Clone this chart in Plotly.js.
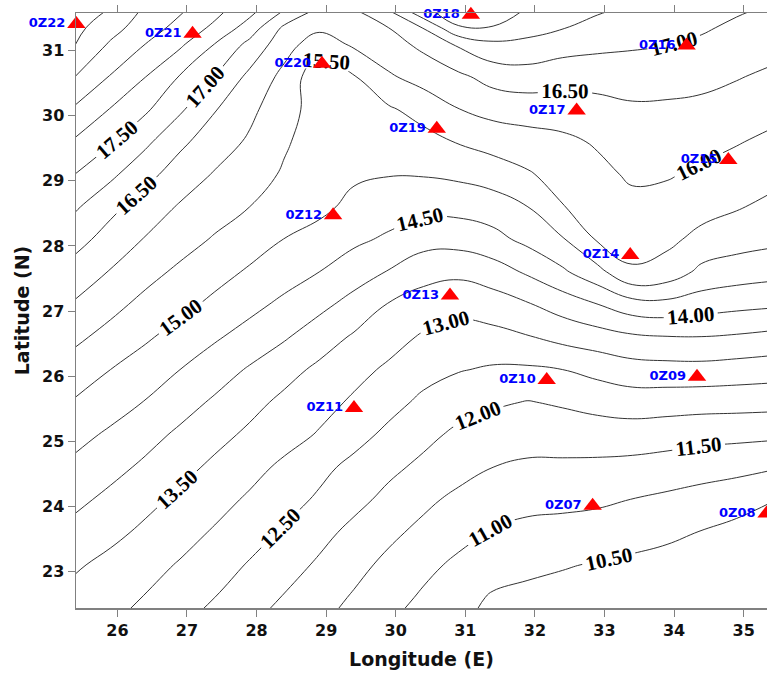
<!DOCTYPE html>
<html>
<head>
<meta charset="utf-8">
<script src="https://cdn.plot.ly/plotly-3.0.1.min.js"></script>
<style>
html,body{margin:0;padding:0;background:#fff;}
#chart{width:767px;height:674px;}
.contourlabels text{font-weight:700 !important;}
</style>
</head>
<body>
<div id="chart"></div>
<script>
// grid coordinates
const lon = [25.4, 25.9, 26.4, 26.9, 27.4, 27.9, 28.4, 28.9, 29.4, 29.9, 30.4, 30.9, 31.4, 31.9, 32.4, 32.9, 33.4, 33.9, 34.4, 34.9, 35.4];
const lat = [22.1, 22.6, 23.1, 23.6, 24.1, 24.6, 25.1, 25.6, 26.1, 26.6, 27.1, 27.6, 28.1, 28.6, 29.1, 29.6, 30.1, 30.6, 31.1, 31.35, 31.6];

// gridded values (one array per latitude row, west -> east)
const z_22_1  = [13.17, 12.99, 12.75, 12.50, 12.26, 12.00, 11.76, 11.52, 11.25, 10.98, 10.76, 10.53, 10.40, 10.35, 10.30, 10.25, 10.20, 10.15, 10.10, 10.07, 10.03];
const z_22_6  = [13.34, 13.16, 12.98, 12.74, 12.50, 12.23, 11.97, 11.71, 11.45, 11.19, 10.93, 10.67, 10.45, 10.40, 10.35, 10.30, 10.25, 10.20, 10.15, 10.10, 10.05];
const z_23_1  = [13.56, 13.36, 13.17, 12.96, 12.72, 12.46, 12.20, 11.93, 11.65, 11.38, 11.13, 10.90, 10.70, 10.59, 10.53, 10.47, 10.40, 10.33, 10.26, 10.20, 10.12];
const z_23_6  = [13.84, 13.63, 13.40, 13.18, 12.95, 12.70, 12.44, 12.15, 11.87, 11.61, 11.37, 11.16, 10.96, 10.87, 10.83, 10.78, 10.69, 10.60, 10.48, 10.35, 10.25];
const z_24_1  = [14.11, 13.88, 13.64, 13.40, 13.17, 12.93, 12.68, 12.43, 12.14, 11.87, 11.61, 11.38, 11.23, 11.14, 11.12, 11.08, 10.99, 10.90, 10.81, 10.70, 10.52];
const z_24_6  = [14.38, 14.15, 13.91, 13.65, 13.40, 13.16, 12.90, 12.63, 12.37, 12.11, 11.89, 11.69, 11.50, 11.42, 11.41, 11.39, 11.35, 11.29, 11.20, 11.14, 11.05];
const z_25_1  = [14.65, 14.42, 14.17, 13.91, 13.65, 13.41, 13.19, 12.96, 12.67, 12.39, 12.13, 11.90, 11.77, 11.70, 11.72, 11.75, 11.76, 11.71, 11.66, 11.63, 11.60];
const z_25_6  = [14.95, 14.72, 14.48, 14.20, 13.93, 13.65, 13.39, 13.17, 12.93, 12.66, 12.40, 12.20, 12.07, 11.98, 12.06, 12.17, 12.25, 12.23, 12.20, 12.19, 12.17];
const z_26_1  = [15.27, 15.00, 14.76, 14.50, 14.23, 13.95, 13.67, 13.40, 13.15, 12.92, 12.67, 12.53, 12.44, 12.43, 12.50, 12.65, 12.79, 12.82, 12.83, 12.78, 12.73];
const z_26_6  = [15.60, 15.33, 15.07, 14.81, 14.56, 14.31, 14.05, 13.74, 13.44, 13.19, 12.94, 12.82, 12.85, 12.97, 13.15, 13.28, 13.42, 13.48, 13.49, 13.44, 13.36];
const z_27_1  = [15.94, 15.65, 15.36, 15.13, 14.89, 14.64, 14.39, 14.13, 13.83, 13.47, 13.29, 13.15, 13.26, 13.46, 13.72, 13.99, 14.29, 14.35, 14.23, 14.14, 14.08];
const z_27_6  = [16.29, 15.97, 15.67, 15.40, 15.17, 14.94, 14.72, 14.50, 14.23, 13.97, 13.67, 13.61, 13.77, 14.07, 14.42, 14.84, 15.45, 15.30, 14.87, 14.75, 14.67];
const z_28_1  = [16.67, 16.30, 15.97, 15.71, 15.45, 15.22, 14.99, 14.80, 14.60, 14.42, 14.20, 14.19, 14.35, 14.63, 14.96, 15.55, 15.66, 15.61, 15.36, 15.21, 15.12];
const z_28_6  = [17.06, 16.63, 16.28, 15.95, 15.73, 15.50, 15.32, 15.13, 14.86, 14.74, 14.65, 14.66, 14.75, 15.00, 15.48, 15.71, 15.87, 15.83, 15.67, 15.54, 15.38];
const z_29_1  = [17.49, 17.11, 16.65, 16.28, 15.96, 15.69, 15.45, 15.28, 15.08, 15.02, 15.03, 15.10, 15.24, 15.45, 15.70, 15.88, 16.07, 16.04, 15.92, 15.80, 15.66];
const z_29_6  = [17.93, 17.55, 17.11, 16.60, 16.25, 15.93, 15.55, 15.30, 15.25, 15.25, 15.33, 15.53, 15.69, 15.80, 15.90, 16.05, 16.24, 16.23, 16.15, 16.03, 15.90];
const z_30_1  = [18.42, 17.98, 17.58, 17.08, 16.53, 16.12, 15.68, 15.30, 15.30, 15.44, 15.69, 15.99, 16.17, 16.23, 16.24, 16.33, 16.43, 16.42, 16.38, 16.29, 16.15];
const z_30_6  = [18.99, 18.47, 18.01, 17.47, 16.99, 16.38, 15.86, 15.15, 15.47, 15.94, 16.19, 16.40, 16.68, 16.77, 16.69, 16.69, 16.71, 16.69, 16.64, 16.53, 16.41];
const z_31_1  = [19.50, 18.94, 18.50, 18.09, 17.49, 16.87, 16.20, 15.74, 16.08, 16.31, 16.62, 17.07, 17.40, 17.38, 17.22, 17.13, 17.07, 17.02, 16.93, 16.79, 16.68];
const z_31_35 = [19.63, 19.19, 18.74, 18.34, 17.89, 17.27, 16.40, 16.10, 16.23, 16.50, 17.02, 17.95, 17.97, 17.68, 17.52, 17.35, 17.23, 17.15, 17.05, 16.92, 16.80];
const z_31_6  = [19.75, 19.45, 18.90, 18.55, 18.14, 17.64, 16.95, 16.35, 16.42, 16.94, 17.86, 18.30, 18.25, 17.94, 17.74, 17.54, 17.40, 17.28, 17.16, 17.04, 16.93];

// stations
const stationNames = ['0Z22', '0Z21', '0Z20', '0Z18', '0Z16', '0Z17', '0Z19', '0Z15', '0Z12', '0Z14', '0Z13', '0Z10', '0Z09', '0Z11', '0Z07', '0Z08', '0Z02'];
const stationLon   = [25.41, 27.08, 28.94, 31.08, 34.18, 32.60, 30.59, 34.78, 29.10, 33.37, 30.78, 32.17, 34.33, 29.40, 32.83, 35.33, 31.58];
const stationLat   = [31.41, 31.26, 30.80, 31.55, 31.08, 30.08, 29.80, 29.32, 28.47, 27.86, 27.24, 25.94, 25.99, 25.51, 24.01, 23.89, 22.40];

// ticks
const xTicks = [26, 27, 28, 29, 30, 31, 32, 33, 34, 35];
const yTicks = [23, 24, 25, 26, 27, 28, 29, 30, 31];

const z = [z_22_1, z_22_6, z_23_1, z_23_6, z_24_1, z_24_6, z_25_1, z_25_6, z_26_1, z_26_6,
           z_27_1, z_27_6, z_28_1, z_28_6, z_29_1, z_29_6, z_30_1, z_30_6, z_31_1, z_31_35, z_31_6];

const contour = {
  type: 'contour',
  x: lon, y: lat, z: z,
  autocontour: false,
  contours: {
    start: 10.5, end: 19.5, size: 0.5,
    coloring: 'none',
    showlabels: true,
    labelformat: '.2f',
    labelfont: {family: 'Liberation Serif, Times New Roman, serif', size: 21, color: '#000', weight: 'bold'}
  },
  line: {color: '#333333', width: 1, smoothing: 1.2},
  showscale: false,
  hoverinfo: 'skip'
};

const stations = {
  type: 'scatter', mode: 'markers+text',
  x: stationLon, y: stationLat, text: stationNames,
  textposition: 'middle left',
  textfont: {family: 'DejaVu Sans, Verdana, sans-serif', size: 13, color: '#0000ff', weight: 'bold'},
  marker: {symbol: 'triangle-up', size: 16, color: '#ff0000', line: {width: 0}},
  cliponaxis: false,
  hoverinfo: 'skip'
};

const tickFont = {family: 'DejaVu Sans, Verdana, sans-serif', size: 16, color: '#111', weight: 'bold'};
const titleFont = {family: 'DejaVu Sans, Verdana, sans-serif', size: 19, color: '#111', weight: 'bold'};

const layout = {
  width: 767, height: 674,
  margin: {l: 76, r: 0, t: 13, b: 66},
  paper_bgcolor: '#ffffff', plot_bgcolor: '#ffffff',
  showlegend: false,
  xaxis: {
    range: [25.405, 35.336], tickvals: xTicks, ticktext: xTicks.map(String),
    ticks: 'outside', ticklen: 7, tickwidth: 1, tickcolor: '#808080',
    showline: true, linecolor: '#808080', linewidth: 1.5, mirror: 'ticks',
    showgrid: false, zeroline: false, tickfont: tickFont,
    title: {text: 'Longitude (E)', font: titleFont, standoff: 14}
  },
  yaxis: {
    range: [22.438, 31.578], tickvals: yTicks, ticktext: yTicks.map(String),
    ticks: 'outside', ticklen: 7, tickwidth: 1, tickcolor: '#808080',
    showline: true, linecolor: '#808080', linewidth: 1.5, mirror: 'ticks',
    showgrid: false, zeroline: false, tickfont: tickFont,
    title: {text: 'Latitude (N)', font: titleFont, standoff: 7}
  }
};

Plotly.newPlot('chart', [contour, stations], layout, {displayModeBar: false, staticPlot: true});
</script>
</body>
</html>
